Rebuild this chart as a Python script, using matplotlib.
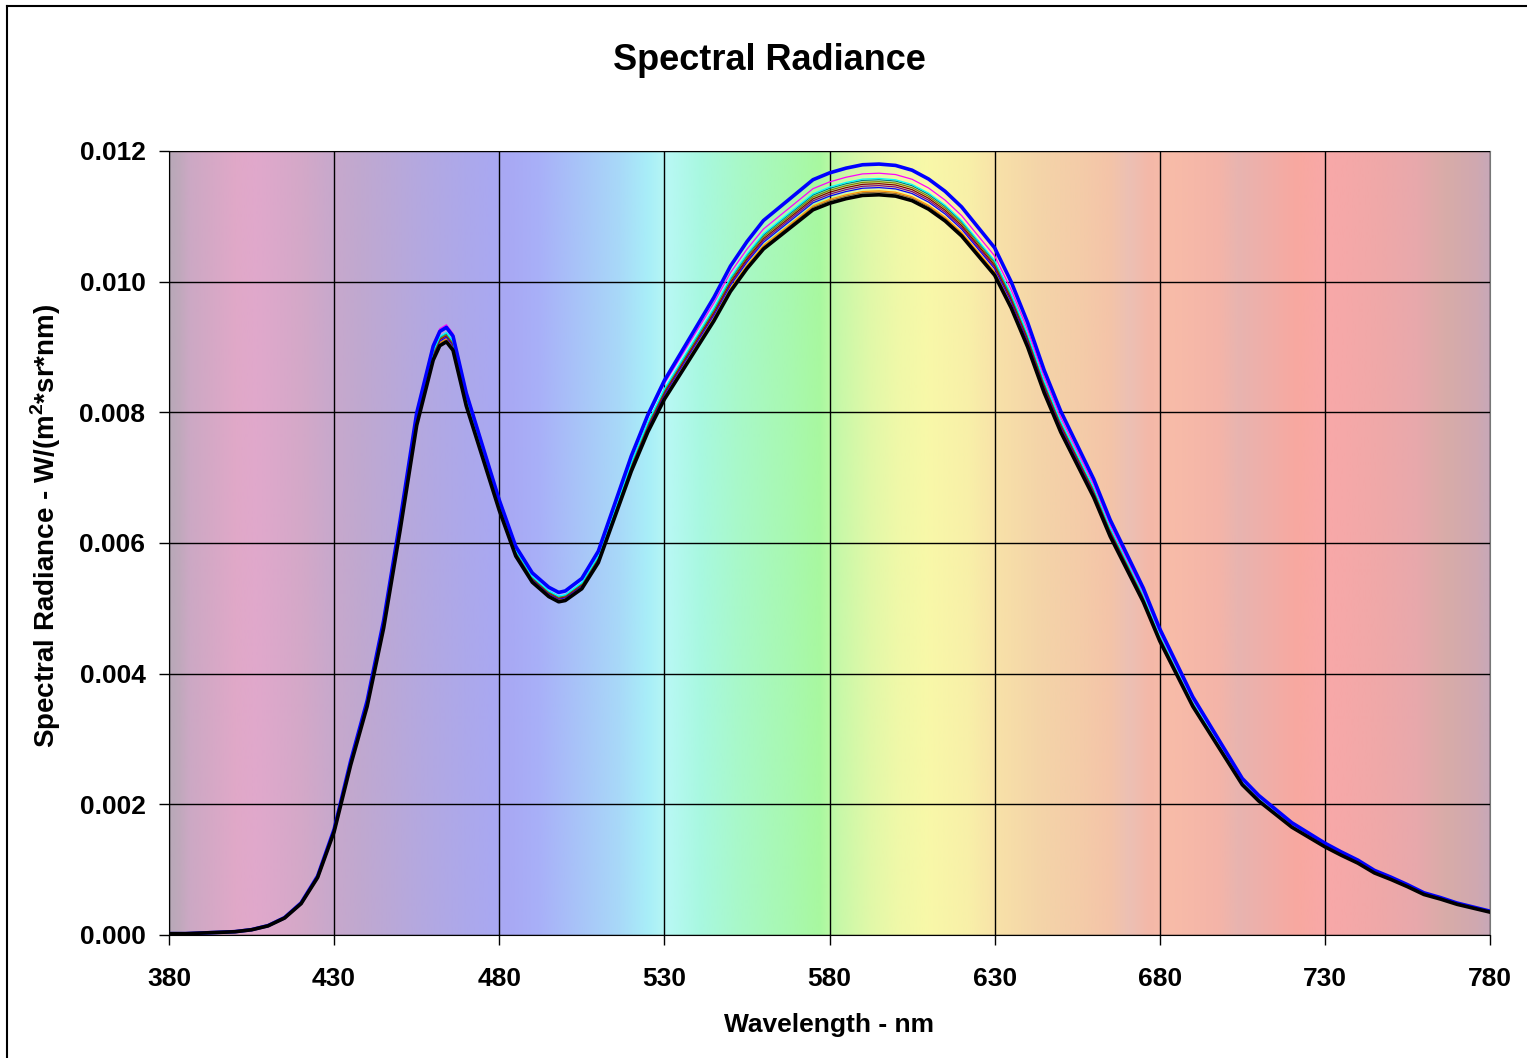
import numpy as np
import matplotlib
matplotlib.use("Agg")
import matplotlib.pyplot as plt
from matplotlib.lines import Line2D

plt.rcParams['font.family'] = ['Liberation Sans', 'DejaVu Sans']
plt.rcParams['font.weight'] = 'bold'
plt.rcParams['mathtext.fontset'] = 'custom'
plt.rcParams['mathtext.rm'] = 'Liberation Sans:bold'
plt.rcParams['mathtext.bf'] = 'Liberation Sans:bold'

# wavelength grid (nm) and the lowest (black) measured curve
wavelength = [380, 385, 390, 395, 400, 405, 410, 415, 420, 425, 430, 435, 440, 445,
              450, 455, 460, 462, 464, 466, 470, 475, 480, 485, 490, 495, 498, 500,
              505, 510, 515, 520, 525, 530, 535, 540, 545, 550, 555, 560, 565, 570,
              575, 580, 585, 590, 595, 600, 605, 610, 615, 620, 625, 630, 635, 640,
              645, 650, 655, 660, 665, 670, 675, 680, 685, 690, 695, 700, 705, 710,
              715, 720, 725, 730, 735, 740, 745, 750, 755, 760, 765, 770, 775, 780]
base_radiance = [0.00002, 0.00002, 0.00003, 0.00004, 0.00005, 0.00008, 0.00014, 0.00026,
                 0.00048, 0.00088, 0.00158, 0.0026, 0.0035, 0.0047, 0.0062, 0.0078,
                 0.0088, 0.00902, 0.00908, 0.00895, 0.0081, 0.0073, 0.0065, 0.0058,
                 0.0054, 0.00518, 0.00510, 0.00512, 0.0053, 0.0057, 0.0064, 0.0071,
                 0.0077, 0.0082, 0.0086, 0.0090, 0.0094, 0.00985, 0.0102, 0.0105,
                 0.0107, 0.0109, 0.0111, 0.01120, 0.01127, 0.01132, 0.01133, 0.01131,
                 0.01124, 0.01111, 0.01093, 0.0107, 0.0104, 0.0101, 0.0096, 0.0090,
                 0.0083, 0.0077, 0.0072, 0.0067, 0.0061, 0.0056, 0.0051, 0.0045,
                 0.0040, 0.0035, 0.0031, 0.0027, 0.0023, 0.00205, 0.00185, 0.00165,
                 0.0015, 0.00135, 0.00122, 0.00110, 0.00095, 0.00085, 0.00074, 0.00062,
                 0.00055, 0.00047, 0.00041, 0.00035]

# peak value of each series near 463 nm and near 595 nm (bottom to top)
series_peak_blue = [0.00908, 0.00912, 0.00913, 0.00915, 0.00917, 0.00918, 0.00919,
                    0.00921, 0.00922, 0.00934, 0.00930]
series_peak = [0.01133, 0.01137, 0.01139, 0.01144, 0.01147, 0.01150, 0.01153,
               0.01156, 0.01158, 0.01166, 0.01180]
series_color = ['black', '#996633', '#ff9900', '#0000ff', '#800080', '#800000',
                '#808000', '#008080', '#00ffff', '#ff00ff', '#0000ff']
series_width = [2.6, 0.9, 0.9, 0.9, 0.9, 0.9, 0.9, 0.9, 0.9, 0.9, 2.6]

# background rainbow
bg_wl = [380, 383, 386, 400, 407, 420, 429, 438, 456, 471, 482, 492, 504, 516, 525,
         531, 541, 553, 568, 577, 583, 592, 601, 610, 622, 632, 644, 656, 665, 671,
         677, 683, 698, 704, 722, 731, 746, 758, 767, 776, 780]
bg_col = ['#b8a8b8', '#c0a8bc', '#cca8c4', '#e0a8c8', '#e0a8cc', '#d4a8c8', '#c8a8cc',
          '#c0a8d0', '#b4a8e0', '#aca8ec', '#a8a8f4', '#a8b0f8', '#a8c4f8', '#a8d8f8',
          '#a8eef8', '#b8f8f4', '#a8f8e0', '#a8f8c8', '#a8f8b0', '#a8f8a0', '#c8f8a8',
          '#e0f8a8', '#f0f8a8', '#f8f8a8', '#f8f0a8', '#f8e0a8', '#f4d4a8', '#f4cca8',
          '#f4c4a8', '#ecc0b4', '#f4b8a8', '#f8bca8', '#f4b4a8', '#e8b4b0', '#f8a8a0',
          '#f8a8a8', '#f0a8a8', '#e8a8ac', '#d8aca8', '#d0a8b0', '#c8a8b8']

wl = np.array(wavelength, dtype=float)
base = np.array(base_radiance)

fig = plt.figure(figsize=(15.27, 10.58), dpi=100)
ax = fig.add_axes([169 / 1527, 1 - 935 / 1058, 1321 / 1527, 784 / 1058])

# gradient background
grid_wl = np.linspace(380, 780, 800)
rgb = np.array([matplotlib.colors.to_rgb(c) for c in bg_col])
img = np.stack([np.interp(grid_wl, bg_wl, rgb[:, k]) for k in range(3)], axis=-1)
ax.imshow(img[np.newaxis, :, :], extent=[380, 780, 0, 0.012], aspect='auto',
          interpolation='bilinear', zorder=0)

# each series = black curve scaled by its own ratio (blue-peak ratio below 480 nm,
# main-peak ratio above 560 nm)
mix = np.clip((wl - 480) / 80.0, 0, 1)
order = list(range(1, 10)) + [10, 0]
for i in order:
    r_blue = series_peak_blue[i] / series_peak_blue[0]
    r_main = series_peak[i] / series_peak[0]
    ratio = r_blue * (1 - mix) + r_main * mix
    ax.plot(wl, base * ratio, color=series_color[i],
            lw=series_width[i], zorder=3 + (i == 10) + 2 * (i == 0))

ax.set_xlim(380, 780)
ax.set_ylim(0, 0.012)
ax.set_xticks(np.arange(380, 781, 50))
ax.set_yticks(np.arange(0, 0.0121, 0.002))
ax.set_yticklabels(['%.3f' % v for v in np.arange(0, 0.0121, 0.002)])
ax.grid(True, color='black', lw=1.0, zorder=1)
ax.set_axisbelow(False)
for ln in ax.get_xgridlines() + ax.get_ygridlines():
    ln.set_zorder(1)
ax.tick_params(axis='x', direction='out', length=7, width=1, pad=16, labelsize=19)
ax.tick_params(axis='y', direction='out', length=7, width=1, pad=10, labelsize=19)
for s in ['top', 'right']:
    ax.spines[s].set_color('#777777')
for s in ['left', 'bottom']:
    ax.spines[s].set_color('black')

fig.text(769 / 1527, 1 - 60 / 1058, 'Spectral Radiance', fontsize=26, fontweight='bold',
         ha='center', va='center')
ax.set_xlabel('Wavelength - nm', fontsize=19, fontweight='bold', labelpad=16)
ax.set_ylabel(r'Spectral Radiance - W/(m$^{\mathbf{2}}$*sr*nm)', fontsize=20,
              fontweight='bold')
ax.yaxis.set_label_coords((63 - 169) / 1321, (935 - 526) / 784)

# outer chart frame (left and top edges)
fig.add_artist(Line2D([7 / 1527, 7 / 1527], [0, 1 - 6 / 1058], color='black', lw=1.5,
                      transform=fig.transFigure))
fig.add_artist(Line2D([7 / 1527, 1], [1 - 6 / 1058, 1 - 6 / 1058], color='black', lw=1.5,
                      transform=fig.transFigure))

fig.savefig('out.png', dpi=100)
